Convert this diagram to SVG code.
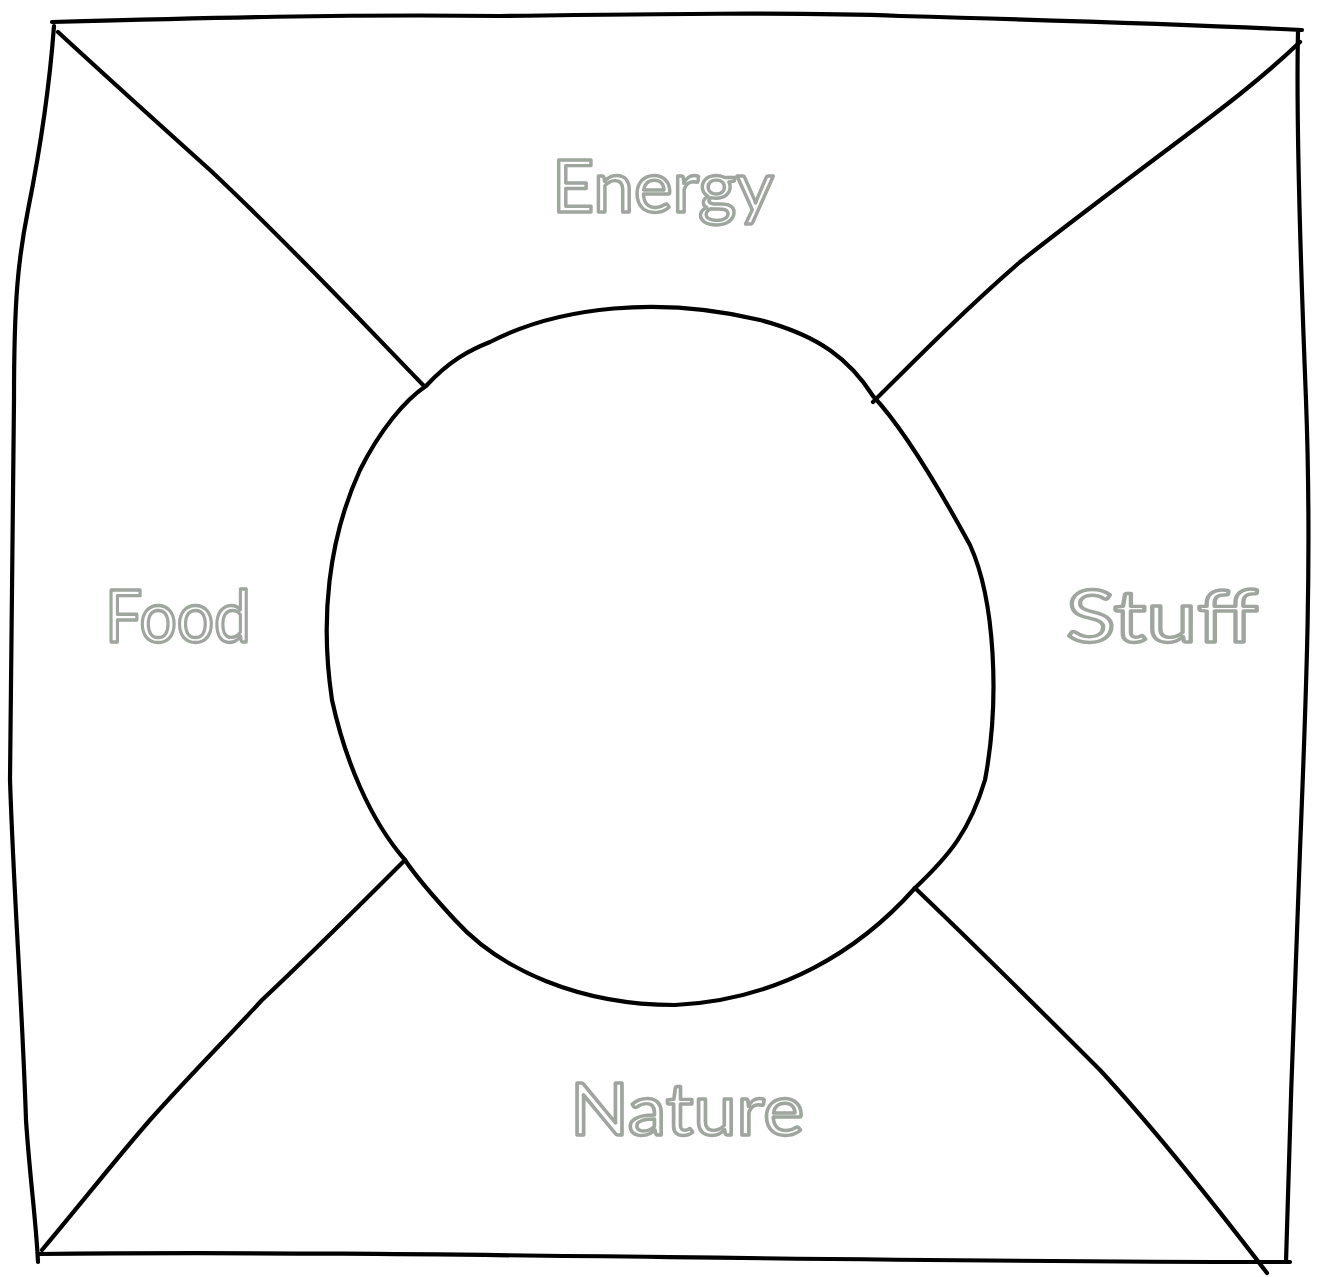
<svg xmlns="http://www.w3.org/2000/svg" width="1328" height="1277" viewBox="0 0 1328 1277">
<style>
.ln{fill:none;stroke:#000;stroke-width:4.2;stroke-linecap:round;stroke-linejoin:round}
.lbl{font-family:"Comic Sans MS","Lato","Noto Sans",sans-serif;fill:#fff;stroke:#9ea69e;stroke-width:3.4;stroke-linejoin:round;font-size:72px;text-anchor:start}
</style>
<rect width="1328" height="1277" fill="#fff"/>
<g id="frame">
<path class="ln" d="M52,22 C200,18 350,14 500,16 C650,14 800,12 900,16 C1050,20 1180,24 1302,30"/>
<path class="ln" d="M1298,32 C1296,120 1300,250 1306,400 C1312,560 1306,700 1300,850 C1294,1000 1290,1120 1286,1262"/>
<path class="ln" d="M38,1254 C400,1250 800,1262 1290,1262"/>
<path class="ln" d="M54,26 C50,80 40,150 28,210 C18,260 14,300 14,400 C12,550 10,700 10,780 C14,900 22,1000 26,1120 C30,1180 36,1220 38,1262"/>
</g>
<g id="circle">
<path class="ln" d="M426,386 C450,360 470,350 490,342 C560,306 660,296 760,320 C820,336 850,360 873,396 C905,430 940,490 970,545 C995,600 1000,700 985,780 C970,830 950,855 915,888 C860,950 780,1000 675,1005 C580,1005 500,970 455,920 C430,893 415,875 405,860 C370,820 345,760 332,700 C320,620 328,540 360,470 C380,430 405,400 426,386 Z"/>
</g>
<g id="connectors">
<path class="ln" d="M58,32 C110,80 160,125 210,170 C290,245 360,320 424,386"/>
<path class="ln" d="M1300,42 C1260,80 1220,110 1180,140 C1120,185 1060,230 1020,262 C970,305 920,355 873,402"/>
<path class="ln" d="M42,1250 C80,1205 115,1160 150,1120 C190,1075 230,1035 262,1000 C310,955 360,905 405,860"/>
<path class="ln" d="M915,888 C980,950 1040,1010 1100,1070 C1160,1135 1215,1205 1267,1273"/>
</g>
<g id="energy"><text class="lbl" x="552" y="212" textLength="222" lengthAdjust="spacingAndGlyphs">Energy</text></g>
<g id="food"><text class="lbl" x="105" y="642" textLength="146" lengthAdjust="spacingAndGlyphs">Food</text></g>
<g id="stuff"><text class="lbl" x="1066" y="642" textLength="192" lengthAdjust="spacingAndGlyphs">Stuff</text></g>
<g id="nature"><text class="lbl" x="570" y="1135" textLength="234" lengthAdjust="spacingAndGlyphs">Nature</text></g>
</svg>
